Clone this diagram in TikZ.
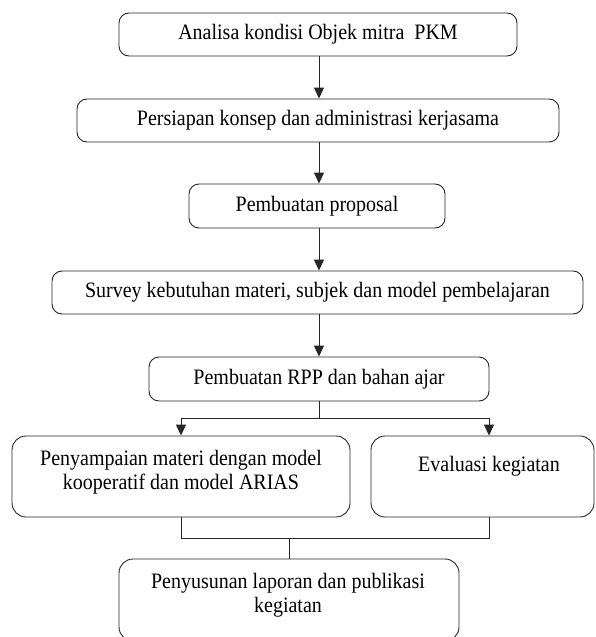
\documentclass[tikz,border=0pt]{standalone}
\usepackage{fontspec}
\setmainfont{Liberation Serif}
\usetikzlibrary{arrows.meta}
\newcommand\vstr[1]{\scalebox{1}[1.1]{#1}}
\begin{document}
\begin{tikzpicture}[x=1pt,y=-1pt,
  box/.style={draw=black!85, line width=0.9pt, rounded corners=10pt, inner sep=0pt, font=\fontsize{20}{24}\selectfont},
  bigbox/.style={box, rounded corners=14pt},
  txt/.style={inner sep=0pt, align=center, font=\fontsize{20}{24}\selectfont},
  conn/.style={line width=1pt, black!85},
  arr/.style={conn, -{Triangle[length=11pt,width=10pt]}}]
\useasboundingbox (0,0) rectangle (595,637);
\node[box, minimum width=398pt, minimum height=43pt] (b1) at (318,34.5) {\vstr{Analisa kondisi Objek mitra\ \ PKM}};
\node[box, minimum width=482pt, minimum height=43pt] (b2) at (318,120.5) {\vstr{Persiapan konsep dan administrasi\ kerjasama}};
\node[box, minimum width=256pt, minimum height=44pt] (b3) at (317,206) {\vstr{Pembuatan proposal}};
\node[box, minimum width=531pt, minimum height=43pt] (b4) at (317.5,292.5) {\vstr{Survey kebutuhan materi,\ subjek dan model\ pembelajaran}};
\node[box, minimum width=340pt, minimum height=44pt] (b5) at (319,379) {\vstr{Pembuatan RPP dan bahan ajar}};
\node[bigbox, minimum width=338pt, minimum height=81pt] (b6) at (181,476.5) {};
\node[bigbox, minimum width=223pt, minimum height=81pt] (b7) at (482.5,476.5) {};
\node[bigbox, minimum width=340pt, minimum height=82pt] (b8) at (289,600) {};
\node[txt] (t6) at (181,472.5) {\vstr{Penyampaian\ materi dengan model}\\\vstr{kooperatif dan model ARIAS}};
\node[txt, anchor=base] (t7) at (489,471) {\vstr{Evaluasi kegiatan}};
\node[txt] (t8) at (288,595) {\vstr{Penyusunan laporan dan publikasi}\\\vstr{kegiatan}};
\coordinate (s) at (319,418);
\coordinate (sl) at (181,418);
\coordinate (sr) at (489,418);
\coordinate (m) at (289,538);
\coordinate (ml) at (181,538);
\coordinate (mr) at (489,538);
\draw[arr] (b1.south -| 319,0) -- (b2.north -| 319,0);
\draw[arr] (b2.south -| 319,0) -- (b3.north -| 319,0);
\draw[arr] (b3.south -| 319,0) -- (b4.north -| 319,0);
\draw[arr] (b4.south -| 319,0) -- (b5.north -| 319,0);
\draw[conn] (b5.south) -- (s);
\draw[arr] (s) -- (sl) -- (b6.north);
\draw[arr] (s) -- (sr) -- (sr |- b7.north);
\draw[conn] (b6.south) -- (ml) -- (mr) -- (mr |- b7.south);
\draw[conn] (m) -- (b8.north);
\end{tikzpicture}
\end{document}
